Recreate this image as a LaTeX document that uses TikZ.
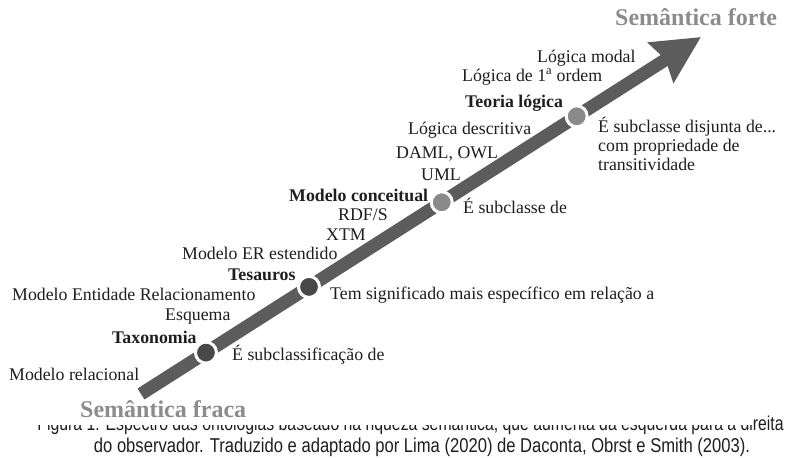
\documentclass[tikz,border=0pt]{standalone}
\usepackage{fontspec}
\setmainfont{Liberation Serif}
\newfontfamily\capfont[FakeStretch=0.83]{Liberation Sans}
\newfontfamily\capfontnarrow[FakeStretch=0.79]{Liberation Sans}
\usetikzlibrary{arrows.meta,positioning,calc}
\definecolor{spgray}{RGB}{92,92,92}
\definecolor{spdark}{RGB}{72,72,72}
\definecolor{splight}{RGB}{138,138,138}
\definecolor{sptitle}{RGB}{140,140,140}
\definecolor{sptext}{RGB}{30,30,30}
\tikzstyle{level} = [circle, draw=white, line width=3pt, minimum size=21pt, inner sep=0pt]
\tikzstyle{term} = [anchor=base west, inner sep=0pt, text=sptext, font=\fontsize{17.8}{18.8}\selectfont]
\tikzstyle{kind} = [term, font=\fontsize{17.8}{18.8}\selectfont\bfseries]
\tikzstyle{relation} = [term, align=left]
\tikzstyle{pole} = [anchor=base west, inner sep=0pt, text=sptitle, font=\fontsize{24}{26}\selectfont\bfseries]
\tikzstyle{caption} = [anchor=base, inner sep=0pt, text=sptext, font=\capfont\fontsize{20}{22}\selectfont]
\begin{document}
\begin{tikzpicture}[x=1pt, y=-1pt]
\useasboundingbox (0,0) rectangle (807,458);
% caption, partly hidden behind the figure
\node (cap1) [caption, anchor=base east, font=\capfontnarrow\fontsize{20}{22}\selectfont] at (784,430) {Figura 1: Espectro das ontologias baseado na riqueza semântica, que aumenta da esquerda para a direita};
\node (cap2) [caption] at (422,452) {do observador. Traduzido e adaptado por Lima (2020) de Daconta, Obrst e Smith (2003).};
\fill[white] (0,0) rectangle (752,425);

% spectrum arrow
\coordinate (tail) at (141,394);
\coordinate (tip) at (701,37);
\draw[line width=13pt, spgray, -{Stealth[length=47pt, width=46pt, inset=5pt]}] (tail) -- (tip);

\node (taxonomia) [level, fill=spdark] at ($(tail)!0.116!(tip)$) {};
\node (tesauros) [level, fill=spdark] at ($(tail)!0.300!(tip)$) {};
\node (conceitual) [level, fill=splight] at ($(tail)!0.537!(tip)$) {};
\node (teoria) [level, fill=splight] at ($(tail)!0.778!(tip)$) {};

% left side
\node (modal) [term] at (537,62) {Lógica modal};
\node (ordem) [term] at (462,81) {Lógica de 1\textsuperscript{a} ordem};
\node (teorialbl) [kind] at (465,107) {Teoria lógica};
\node (descritiva) [term] at (408,134) {Lógica descritiva};
\node (daml) [term] at (396,158) {DAML, OWL};
\node (uml) [term] at (421,180) {UML};
\node (conceitlbl) [kind] at (289,201) {Modelo conceitual};
\node (rdfs) [term] at (338,220) {RDF/S};
\node (xtm) [term] at (326,240) {XTM};
\node (erext) [term] at (182,259) {Modelo ER estendido};
\node (tesaurlbl) [kind] at (228,280) {Tesauros};
\node (mer) [term] at (12,300) {Modelo Entidade Relacionamento};
\node (esquema) [term] at (165,320) {Esquema};
\node (taxonlbl) [kind] at (112,343) {Taxonomia};
\node (relacional) [term] at (9,380) {Modelo relacional};

% right side
\node (disjunta) [relation] at (598,170) {É subclasse disjunta de...\\com propriedade de\\transitividade};
\node (subclasse) [relation] at (463,213) {É subclasse de};
\node (significado) [relation] at (330,299) {Tem significado mais específico em relação a};
\node (subclassif) [relation] at (232,360) {É subclassificação de};

\node (forte) [pole] at (615,25) {Semântica forte};
\node (fraca) [pole] at (80,417) {Semântica fraca};
\end{tikzpicture}
\end{document}
